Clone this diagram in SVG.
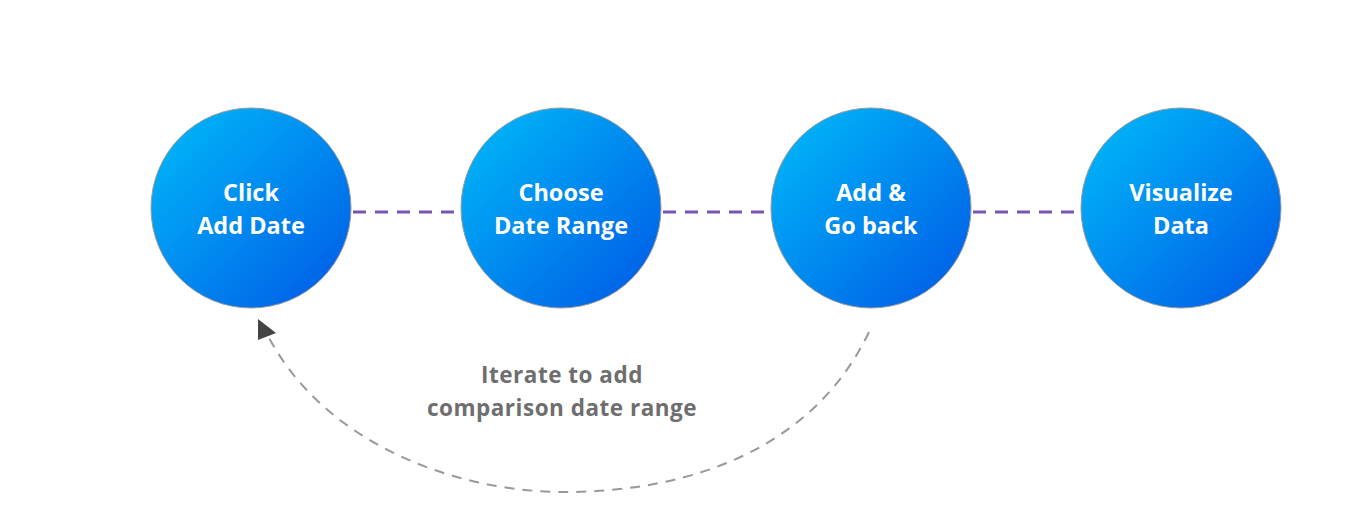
<svg xmlns="http://www.w3.org/2000/svg" width="1366" height="512" viewBox="0 0 1366 512">
<defs>
<linearGradient id="g" x1="0" y1="0" x2="1" y2="1">
<stop offset="0" stop-color="#00BDF9"/>
<stop offset="1" stop-color="#0057E6"/>
</linearGradient>
<style>
.node circle{fill:url(#g);stroke:#9a9a9a;stroke-width:1}
.node text{font-family:"Open Sans",Lato,sans-serif;font-weight:700;font-size:23.5px;fill:#fff;text-anchor:middle}
.link{stroke:#7755b0;stroke-width:3;stroke-dasharray:13 9;fill:none}
.loop{stroke:#999;stroke-width:2;stroke-dasharray:10 8;fill:none}
.lbl{font-family:"Open Sans",Lato,sans-serif;font-weight:700;font-size:22.5px;letter-spacing:0.5px;fill:#6e6e6e;text-anchor:middle}
</style>
</defs>
<rect width="1366" height="512" fill="#fff"/>
<g id="connectors">
<line class="link" x1="353" y1="212" x2="460" y2="212"/>
<line class="link" x1="663" y1="212" x2="770" y2="212"/>
<line class="link" x1="973" y1="212" x2="1080" y2="212"/>
<path class="loop" d="M 869 332 C 810 455, 680 492, 565 492 C 450 492, 320 440, 266 332"/>
<polygon points="258,319 258,340 276,333" fill="#444"/>
</g>
<g id="n1" class="node"><circle cx="251" cy="208" r="100"/><text x="251" y="201">Click</text><text x="251" y="234">Add Date</text></g>
<g id="n2" class="node"><circle cx="561" cy="208" r="100"/><text x="561" y="201">Choose</text><text x="561" y="234">Date Range</text></g>
<g id="n3" class="node"><circle cx="871" cy="208" r="100"/><text x="871" y="201">Add &amp;</text><text x="871" y="234">Go back</text></g>
<g id="n4" class="node"><circle cx="1181" cy="208" r="100"/><text x="1181" y="201">Visualize</text><text x="1181" y="234">Data</text></g>
<g id="label"><text class="lbl" x="562" y="383">Iterate to add</text><text class="lbl" x="562" y="416">comparison date range</text></g>
</svg>
